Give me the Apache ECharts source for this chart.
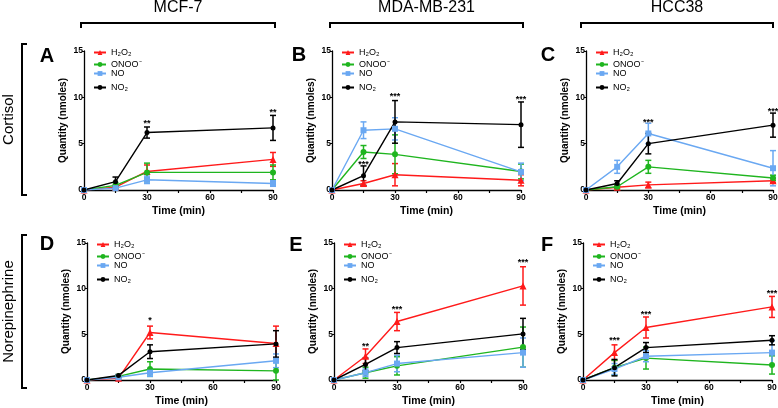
<!DOCTYPE html>
<html>
<head>
<meta charset="utf-8">
<script src="https://cdn.jsdelivr.net/npm/echarts@6/dist/echarts.min.js"></script>
<style>
  html, body { margin: 0; padding: 0; background: #fff; }
  #chart { width: 778px; height: 408px; }
</style>
</head>
<body>
<div id="chart"></div>
<script>
// time points and tick labels
var times = [0, 15, 30, 90];
var xTickLabels = [0, 30, 60, 90];
var yTickLabels = [0, 5, 10, 15];
var cellLines = ['MCF-7', 'MDA-MB-231', 'HCC38'];
var hormones = ['Cortisol', 'Norepinephrine'];
var panelLetters = ['A', 'B', 'C', 'D', 'E', 'F'];
var speciesNames = ['H₂O₂', 'ONOO⁻', 'NO', 'NO₂'];

// means per panel, rows: H2O2, ONOO-, NO, NO2
var meanA = [[0, 0.3, 2.0, 3.3], [0, 0.5, 1.9, 1.9], [0, 0.2, 1.1, 0.7], [0, 0.9, 6.2, 6.7]];
var errA = [[0, 0.2, 0.7, 0.75], [0, 0.3, 1.0, 0.8], [0, 0.15, 0.4, 0.3], [0, 0.5, 0.6, 1.35]];
var starsA = [[30, 7.4, '**'], [90, 8.6, '**']];

var meanB = [[0, 0.7, 1.65, 1.05], [0, 4.1, 3.85, 2.0], [0, 6.45, 6.6, 1.95], [0, 1.55, 7.35, 7.05]];
var errB = [[0, 0.3, 1.2, 0.6], [0, 0.7, 2.1, 0.8], [0, 0.9, 1.2, 0.95], [0, 1.05, 2.3, 2.45]];
var starsB = [[15, 3.0, '***'], [30, 10.3, '***'], [90, 10.0, '***']];

var meanC = [[0, 0.3, 0.55, 1.0], [0, 0.35, 2.5, 1.3], [0, 2.5, 6.1, 2.35], [0, 0.7, 5.0, 7.0]];
var errC = [[0, 0.1, 0.3, 0.2], [0, 0.2, 0.7, 0.3], [0, 0.7, 1.1, 1.9], [0, 0.3, 1.1, 1.3]];
var starsC = [[30, 7.5, '***'], [90, 8.7, '***']];

var meanD = [[0, 0.2, 5.2, 4.0], [0, 0.4, 1.2, 1.0], [0, 0.3, 0.8, 2.1], [0, 0.5, 3.1, 3.95]];
var errD = [[0, 0.1, 0.7, 1.9], [0, 0.1, 0.8, 1.0], [0, 0.1, 0.4, 0.75], [0, 0.1, 0.75, 1.45]];
var starsD = [[30, 6.7, '*']];

var meanE = [[0, 2.6, 6.4, 10.3], [0, 0.8, 1.55, 3.6], [0, 0.8, 1.8, 3.0], [0, 1.7, 3.55, 5.05]];
var errE = [[0, 0.8, 1.0, 2.1], [0, 0.6, 1.0, 2.2], [0, 0.4, 0.9, 1.6], [0, 0.7, 0.65, 1.7]];
var starsE = [[15, 3.85, '**'], [30, 7.9, '***'], [90, 13.1, '***']];

var meanF = [[0, 3.0, 5.75, 8.0], [0, 1.35, 2.4, 1.65], [0, 1.2, 2.6, 3.0], [0, 1.35, 3.55, 4.35]];
var errF = [[0, 0.85, 1.15, 1.15], [0, 0.8, 1.2, 1.0], [0, 0.6, 0.6, 1.3], [0, 0.9, 0.55, 0.5]];
var starsF = [[15, 4.5, '***'], [30, 7.4, '***'], [90, 9.7, '***']];

var panels = [
    { mean: meanA, err: errA, stars: starsA, left: 84, top: 51, width: 189, height: 139 },
    { mean: meanB, err: errB, stars: starsB, left: 332, top: 51, width: 189, height: 139 },
    { mean: meanC, err: errC, stars: starsC, left: 586, top: 51, width: 187, height: 139 },
    { mean: meanD, err: errD, stars: starsD, left: 87, top: 243, width: 189, height: 137 },
    { mean: meanE, err: errE, stars: starsE, left: 334, top: 243, width: 189, height: 137 },
    { mean: meanF, err: errF, stars: starsF, left: 583, top: 243, width: 189, height: 137 }
];

var colors = ['#ff1a1a', '#1fb51f', '#6aa8f2', '#000000'];
var symbols = ['triangle', 'circle', 'rect', 'circle'];
var symbolSizes = [7, 6, 6, 5];
var legendOffsets = [1.5, 13.5, 22.5, 36.5];
var FONT = 'Liberation Sans, Arial, sans-serif';

var chart = echarts.init(document.getElementById('chart'));

var grids = [], xAxes = [], yAxes = [], legends = [], series = [], graphics = [];

panels.forEach(function (p, pi) {
    grids.push({ left: p.left, top: p.top, width: p.width, height: p.height, containLabel: false, outerBoundsMode: 'none' });
    xAxes.push({
        type: 'value', gridIndex: pi, min: 0, max: 90, interval: 15,
        name: 'Time (min)', nameLocation: 'middle', nameGap: 16,
        nameTextStyle: { fontFamily: FONT, fontWeight: 'bold', fontSize: 10.5, color: '#000' },
        axisLine: { onZero: false, lineStyle: { color: '#000', width: 1.3 } },
        axisTick: { length: 3, lineStyle: { color: '#000', width: 1.2 } },
        axisLabel: {
            margin: 3, fontFamily: FONT, fontWeight: 'bold', fontSize: 8.5, color: '#000',
            formatter: function (v) { return xTickLabels.indexOf(v) >= 0 ? String(v) : ''; }
        },
        splitLine: { show: false }
    });
    yAxes.push({
        type: 'value', gridIndex: pi, min: 0, max: 15, interval: 5,
        name: 'Quantity (nmoles)', nameLocation: 'middle', nameGap: 16,
        nameTextStyle: { fontFamily: FONT, fontWeight: 'bold', fontSize: 10, color: '#000' },
        axisLine: { show: true, onZero: false, lineStyle: { color: '#000', width: 1.3 } },
        axisTick: { show: true, length: 2, lineStyle: { color: '#000', width: 1.2 } },
        axisLabel: {
            margin: 1, fontFamily: FONT, fontWeight: 'bold', fontSize: 8.5, color: '#000',
            formatter: function (v) { return yTickLabels.indexOf(v) >= 0 ? String(v) : ''; }
        },
        splitLine: { show: false }
    });

    speciesNames.forEach(function (name, si) {
        legends.push({
            left: p.left + 9, top: p.top + legendOffsets[si] - 5,
            padding: 0, itemWidth: 12, itemHeight: 6, itemGap: 0,
            selectedMode: false, data: [name],
            textStyle: { fontFamily: FONT, fontSize: 9, color: '#000', lineHeight: 10 }
        });
        var m = p.mean[si], e = p.err[si];
        var errData = times.map(function (t, k) { return [t, Math.max(0, m[k] - e[k]), m[k] + e[k]]; })
            .filter(function (d) { return d[2] - d[1] > 0; });
        series.push({
            type: 'custom', xAxisIndex: pi, yAxisIndex: pi, silent: true,
            data: errData,
            renderItem: (function (color) {
                return function (params, api) {
                    var x = api.value(0);
                    var top = api.coord([x, api.value(2)]);
                    var bot = api.coord([x, api.value(1)]);
                    var hw = 3;
                    var st = { stroke: color, lineWidth: 1.5 };
                    return {
                        type: 'group', children: [
                            { type: 'line', shape: { x1: top[0], y1: top[1], x2: bot[0], y2: bot[1] }, style: st },
                            { type: 'line', shape: { x1: top[0] - hw, y1: top[1], x2: top[0] + hw, y2: top[1] }, style: st },
                            { type: 'line', shape: { x1: bot[0] - hw, y1: bot[1], x2: bot[0] + hw, y2: bot[1] }, style: st }
                        ]
                    };
                };
            })(colors[si])
        });
    });
    speciesNames.forEach(function (name, si) {
        series.push({
            name: name, type: 'line', xAxisIndex: pi, yAxisIndex: pi,
            data: times.map(function (t, k) { return [t, p.mean[si][k]]; }),
            symbol: symbols[si], symbolSize: symbolSizes[si], showSymbol: true,
            itemStyle: { color: colors[si] },
            lineStyle: { color: colors[si], width: 1.4 },
            emphasis: { disabled: true }
        });
    });
    series.push({
        type: 'custom', xAxisIndex: pi, yAxisIndex: pi, silent: true,
        data: p.stars.map(function (s) { return [s[0], s[1]]; }),
        renderItem: (function (stars) {
            return function (params, api) {
                var c = api.coord([api.value(0), api.value(1)]);
                return {
                    type: 'text', x: c[0], y: c[1] + 2,
                    style: { text: stars[params.dataIndex][2], align: 'center', verticalAlign: 'middle', font: 'bold 9px ' + FONT, fill: '#000' }
                };
            };
        })(p.stars)
    });

    // panel letter
    graphics.push({
        type: 'text', x: [47, 299, 548, 47, 296, 547][pi], y: [56, 55, 55, 244, 245, 245][pi],
        style: { text: panelLetters[pi], align: 'center', verticalAlign: 'middle', font: 'bold 20px ' + FONT, fill: '#000' }
    });
});

// column headers with brackets
var colBrackets = [[81, 275], [330, 523], [581, 773]];
cellLines.forEach(function (name, ci) {
    var b = colBrackets[ci];
    graphics.push({
        type: 'text', x: (b[0] + b[1]) / 2, y: 8,
        style: { text: name, align: 'center', verticalAlign: 'middle', font: '16px ' + FONT, fill: '#000' }
    });
    graphics.push({
        type: 'polyline', shape: { points: [[b[0], 28], [b[0], 23], [b[1], 23], [b[1], 28]] },
        style: { stroke: '#000', lineWidth: 2, fill: null }
    });
});

// row labels with brackets
var rowBrackets = [[44, 195], [235, 388]];
hormones.forEach(function (name, ri) {
    var b = rowBrackets[ri];
    graphics.push({
        type: 'text', x: 9, y: (b[0] + b[1]) / 2, rotation: Math.PI / 2,
        style: { text: name, align: 'center', verticalAlign: 'middle', font: '15px ' + FONT, fill: '#000' }
    });
    graphics.push({
        type: 'polyline', shape: { points: [[27, b[0]], [22, b[0]], [22, b[1]], [27, b[1]]] },
        style: { stroke: '#000', lineWidth: 2, fill: null }
    });
});

chart.setOption({
    animation: false,
    backgroundColor: '#fff',
    grid: grids,
    xAxis: xAxes,
    yAxis: yAxes,
    legend: legends,
    series: series,
    graphic: graphics
});
</script>
</body>
</html>
